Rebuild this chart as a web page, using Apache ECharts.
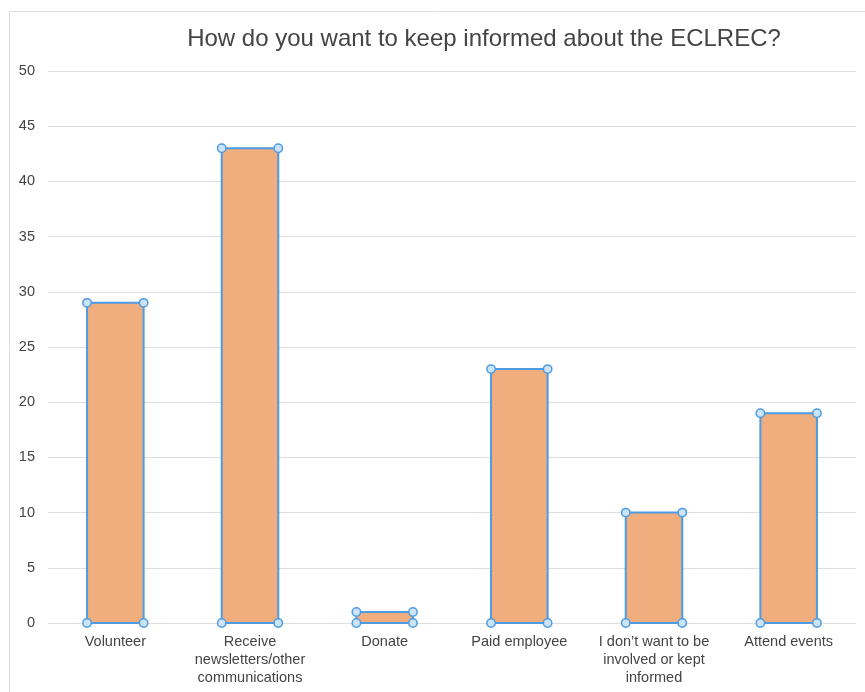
<!DOCTYPE html>
<html>
<head>
<meta charset="utf-8">
<script src="https://cdn.jsdelivr.net/npm/echarts@6/dist/echarts.min.js"></script>
<style>html,body{margin:0;padding:0;background:#fff}#c{width:865px;height:692px}</style>
</head>
<body>
<div id="c"></div>
<script>
const titleText = "How do you want to keep informed about the ECLREC?";
const categories = ["Volunteer", "Receive\nnewsletters/other\ncommunications", "Donate", "Paid employee", "I don’t want to be\ninvolved or kept\ninformed", "Attend events"];
const values = [29, 43, 1, 23, 10, 19];
const yTicks = { min: 0, max: 50, interval: 5 };

const chart = echarts.init(document.getElementById('c'), null, { renderer: 'canvas' });
const fillColor = '#f0ad7e';
const lineColor = '#4d9be3';
const barFrac = 0.42;
const font = 'Liberation Sans, Arial, sans-serif';

chart.setOption({
  animation: false,
  backgroundColor: '#fff',
  graphic: [{
    type: 'polyline', silent: true, z: -1,
    shape: { points: [[9.5, 692], [9.5, 11.5], [865, 11.5]] },
    style: { stroke: '#dcdcdc', lineWidth: 1, fill: null }
  }],
  title: {
    text: titleText, left: 479, top: 22, textAlign: 'center',
    textStyle: { fontFamily: font, fontSize: 24, fontWeight: 'normal', color: '#444' }
  },
  grid: { left: 48, right: 9, top: 71, bottom: 69, containLabel: false },
  xAxis: {
    type: 'category', data: categories,
    axisLine: { show: false }, axisTick: { show: false },
    axisLabel: { interval: 0, margin: 10, color: '#444', fontSize: 14.5, lineHeight: 18, fontFamily: font }
  },
  yAxis: {
    type: 'value', min: yTicks.min, max: yTicks.max, interval: yTicks.interval,
    axisLine: { show: false }, axisTick: { show: false },
    axisLabel: { color: '#444', fontSize: 14.5, margin: 13, fontFamily: font },
    splitLine: { lineStyle: { color: '#dedede', width: 1 } }
  },
  series: [{
    type: 'custom',
    data: values.map((v, i) => [i, v]),
    encode: { x: 0, y: 1 },
    renderItem: function (params, api) {
      const i = api.value(0), v = api.value(1);
      const top = api.coord([i, v]);
      const base = api.coord([i, 0]);
      const w = api.size([1, 0])[0] * barFrac;
      const x0 = top[0] - w / 2, x1 = top[0] + w / 2;
      const children = [{
        type: 'rect',
        shape: { x: x0, y: top[1], width: w, height: base[1] - top[1] },
        style: { fill: fillColor, stroke: lineColor, lineWidth: 2 }
      }];
      [[x0, top[1]], [x1, top[1]], [x0, base[1]], [x1, base[1]]].forEach(p => {
        children.push({
          type: 'circle', shape: { cx: p[0], cy: p[1], r: 4.2 },
          style: { fill: '#cde3f8', stroke: lineColor, lineWidth: 1.5 }
        });
      });
      return { type: 'group', children };
    }
  }]
});
</script>
</body>
</html>
